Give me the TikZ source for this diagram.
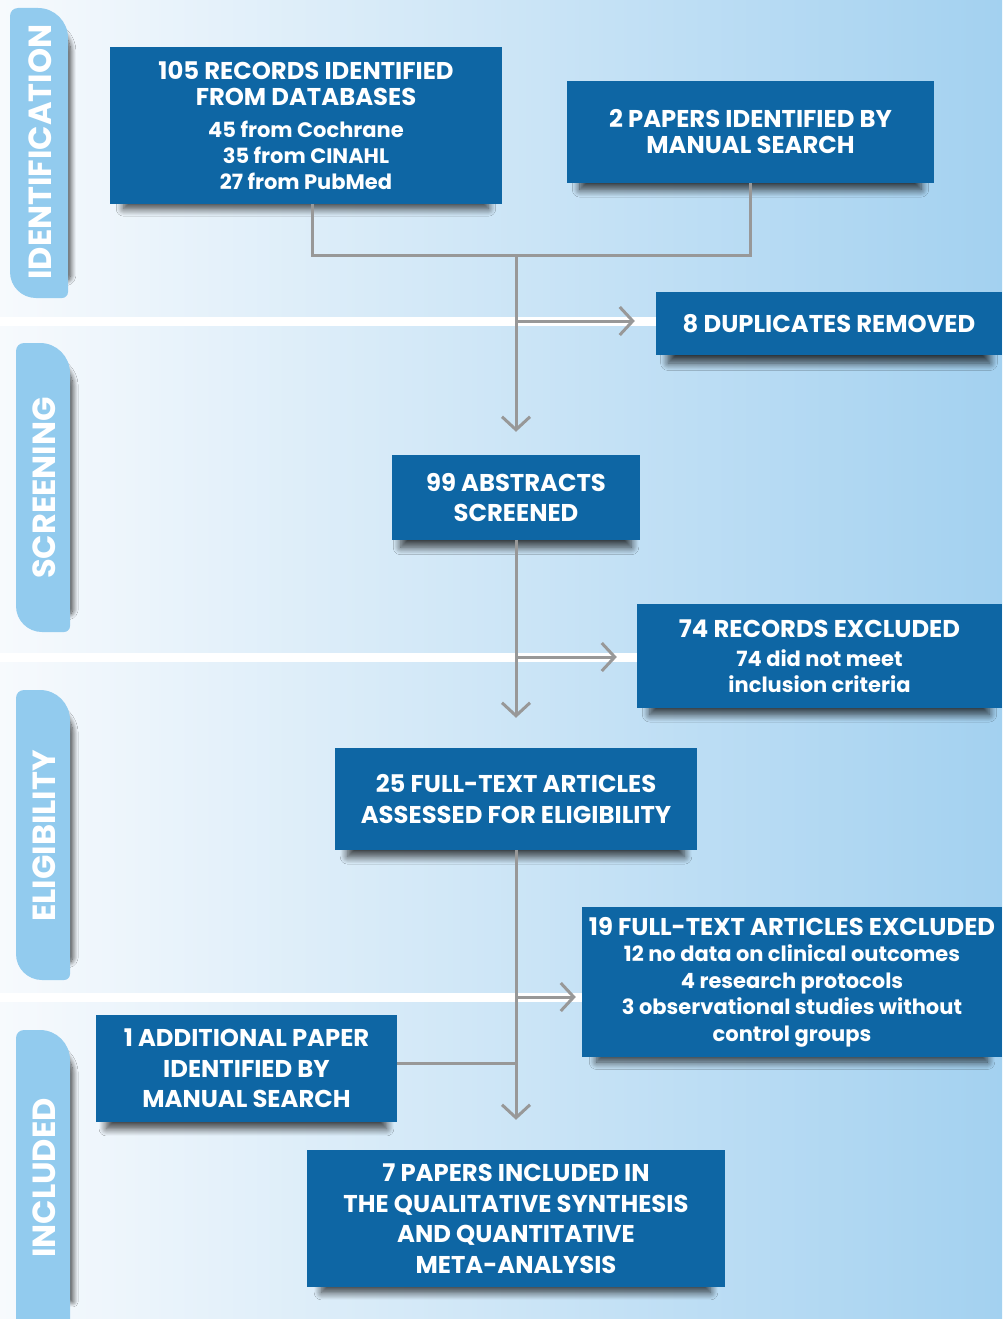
\documentclass[tikz,border=0pt]{standalone}
\usepackage{fontspec}
\setmainfont{Poppins}
\usetikzlibrary{arrows.meta,calc,positioning,shadows.blur}
\definecolor{boxblue}{RGB}{14,102,164}
\definecolor{tabblue}{RGB}{146,203,238}
\definecolor{linegray}{RGB}{152,152,152}
\definecolor{bgleft}{RGB}{247,250,253}
\definecolor{bgright}{RGB}{163,209,240}

\tikzset{
  box/.style={fill=boxblue, text=white, align=center, inner sep=0pt,
    font=\bfseries\fontsize{24.3}{30.5}\selectfont,
    blur shadow={shadow xshift=0pt, shadow yshift=-11pt, shadow scale=0.93, shadow opacity=75, shadow blur steps=12, shadow blur radius=8pt}},
  conn/.style={draw=linegray, line width=3pt},
  flow/.style={conn, -{Straight Barb[length=13pt, width=28pt]}},
  tabshape/.style={fill=tabblue, blur shadow={shadow xshift=7pt, shadow yshift=0pt, shadow scale=0.88, shadow opacity=75, shadow blur steps=12, shadow blur radius=6pt}},
  tablabel/.style={text=white, rotate=90, font=\bfseries\fontsize{32}{32}\selectfont}
}
\newcommand{\subline}[1]{{\fontsize{21}{26.5}\selectfont #1}}

\begin{document}
\begin{tikzpicture}[x=1pt, y=-1pt]
  \useasboundingbox (0,0) rectangle (1002,1319);
  \shade[left color=bgleft, right color=bgright] (0,0) rectangle (1002,1319);
  \fill[white] (0,317) rectangle (656,326);
  \fill[white] (0,653) rectangle (637,662);
  \fill[white] (0,993) rectangle (582,1002);

  \fill[tabshape] (10,150) [rounded corners=8pt] -- (10,8) [rounded corners=30pt] -- (68,8) [rounded corners=6pt] -- (68,298) [rounded corners=26pt] -- (10,298) [sharp corners] -- cycle;
  \fill[tabshape] (16,480) [rounded corners=8pt] -- (16,343) [rounded corners=30pt] -- (70,343) [rounded corners=6pt] -- (70,632) [rounded corners=26pt] -- (16,632) [sharp corners] -- cycle;
  \fill[tabshape] (16,830) [rounded corners=8pt] -- (16,690) [rounded corners=30pt] -- (70,690) [rounded corners=6pt] -- (70,980) [rounded corners=26pt] -- (16,980) [sharp corners] -- cycle;
  \fill[tabshape] (16,1170) [rounded corners=8pt] -- (16,1030) [rounded corners=30pt] -- (70,1030) [sharp corners] -- (70,1319) -- (16,1319) -- cycle;
  \node[tablabel] (idlab) at (40,152) {IDENTIFICATION};
  \node[tablabel] (scrlab) at (44,488) {SCREENING};
  \node[tablabel] (eliglab) at (44,836) {ELIGIBILITY};
  \node[tablabel] (incllab) at (44,1178) {INCLUDED};

  \node[box, minimum width=392pt, minimum height=157pt, font=\bfseries\fontsize{24.3}{26}\selectfont] (recs) at (306,125.5)
    {105 RECORDS IDENTIFIED\\FROM DATABASES\\[6pt]
     \subline{45 from Cochrane}\\
     \subline{35 from CINAHL}\\
     \subline{27 from PubMed}};
  \node[box, minimum width=367pt, minimum height=102pt, font=\bfseries\fontsize{24.3}{26}\selectfont] (manual) at (750.5,132)
    {2 PAPERS IDENTIFIED BY\\MANUAL SEARCH};
  \node[box, minimum width=346pt, minimum height=63pt] (dupl) at (829,323.5)
    {8 DUPLICATES REMOVED};
  \node[box, minimum width=248pt, minimum height=85pt] (abstr) at (516,497.5)
    {99 ABSTRACTS\\SCREENED};
  \node[box, minimum width=365pt, minimum height=104pt, font=\bfseries\fontsize{24.3}{26}\selectfont] (excl) at (819.5,656)
    {74 RECORDS EXCLUDED\\[3pt]
     \subline{74 did not meet}\\
     \subline{inclusion criteria}};
  \node[box, minimum width=362pt, minimum height=102pt] (full) at (516,799)
    {25 FULL-TEXT ARTICLES\\ASSESSED FOR ELIGIBILITY};
  \node[box, minimum width=420pt, minimum height=150pt, font=\bfseries\fontsize{24.3}{26.5}\selectfont] (fullex) at (792,982)
    {19 FULL-TEXT ARTICLES EXCLUDED\\
     \subline{12 no data on clinical outcomes}\\
     \subline{4 research protocols}\\
     \subline{3 observational studies without}\\
     \subline{control groups}};
  \node[box, minimum width=301pt, minimum height=107pt] (addit) at (246.5,1068.5)
    {1 ADDITIONAL PAPER\\IDENTIFIED BY\\MANUAL SEARCH};
  \node[box, minimum width=418pt, minimum height=137pt] (incl) at (516,1218.5)
    {7 PAPERS INCLUDED IN\\THE QUALITATIVE SYNTHESIS\\AND QUANTITATIVE\\META-ANALYSIS};

  \coordinate (join) at (516,255);
  \coordinate (dupturn) at (516,321);
  \coordinate (exturn) at (516,657);
  \coordinate (fullturn) at (516,997);
  \coordinate (addturn) at (516,1063);

  \draw[conn] ($(recs.south)+(6,0)$) |- (join) -| (manual.south);
  \draw[flow, shorten >=23pt] (join) -- (abstr.north);
  \draw[flow, shorten >=21pt] (dupturn) -- (dupturn -| dupl.west);
  \draw[flow, shorten >=30pt] (abstr.south) -- (full.north);
  \draw[flow, shorten >=20pt] (exturn) -- (exturn -| excl.west);
  \draw[flow, shorten >=30pt] (full.south) -- (incl.north);
  \draw[flow, shorten >=6pt] (fullturn) -- (fullturn -| fullex.west);
  \draw[conn] (addturn -| addit.east) -- (addturn);
\end{tikzpicture}
\end{document}
